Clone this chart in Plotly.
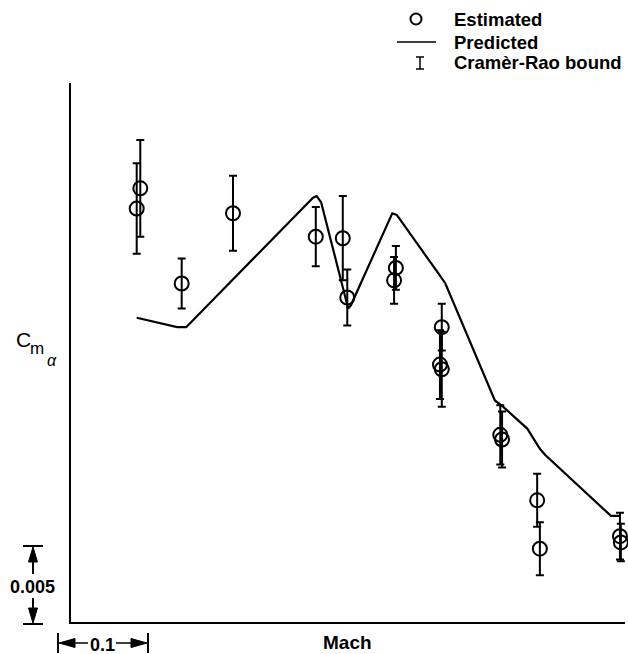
import plotly.graph_objects as go

# ---- data ----
mach_est = [0.627, 0.623, 0.673, 0.730, 0.822, 0.852, 0.857, 0.911, 0.909,
            0.962, 0.960, 0.962, 1.027, 1.029, 1.068, 1.071, 1.160, 1.161]
cma_est = [0.0278, 0.0265, 0.0217, 0.0262, 0.0247, 0.0246, 0.0208, 0.0227, 0.0219,
           0.0189, 0.0165, 0.0162, 0.0120, 0.0117, 0.0078, 0.0047, 0.0055, 0.0051]
cr_bound = [0.0031, 0.0029, 0.0016, 0.0024, 0.0019, 0.0027, 0.0018, 0.0014, 0.0015,
            0.0015, 0.0022, 0.0024, 0.0019, 0.0018, 0.0017, 0.0017, 0.0015, 0.0012]

mach_pred = [0.623, 0.668, 0.678, 0.819, 0.823, 0.828, 0.858, 0.861, 0.907, 0.912,
             0.960, 0.966, 1.021, 1.030, 1.057, 1.071, 1.077, 1.150, 1.160]
cma_pred = [0.0195, 0.0189, 0.0189, 0.0272, 0.0273, 0.0269, 0.0201, 0.0203, 0.0262, 0.0261,
            0.0222, 0.0217, 0.0142, 0.0138, 0.0124, 0.0111, 0.0107, 0.0068, 0.0068]

legend_labels = ["Estimated", "Predicted", "Cramèr-Rao bound"]
x_title = "Mach"
scale_y_label = "0.005"
scale_x_label = "0.1"

W, H = 628, 654


def px(x):
    return x / W


def py(y):
    return 1 - y / H


FONT = "Liberation Sans"

fig = go.Figure()
fig.add_trace(go.Scatter(
    x=mach_pred, y=cma_pred, mode="lines",
    line=dict(color="black", width=2.2), showlegend=False, cliponaxis=False))
fig.add_trace(go.Scatter(
    x=mach_est, y=cma_est, mode="markers",
    marker=dict(symbol="circle-open", size=14, color="black", line=dict(width=2, color="black")),
    error_y=dict(type="data", array=cr_bound, visible=True, thickness=2, width=4, color="black"),
    showlegend=False, cliponaxis=False))

shapes = []
anns = []


def line(x0, y0, x1, y1, w=2):
    shapes.append(dict(type="line", xref="paper", yref="paper",
                       x0=px(x0), y0=py(y0), x1=px(x1), y1=py(y1),
                       line=dict(color="black", width=w)))


def tri(pts):
    d = "M " + " L ".join(f"{px(a)},{py(b)}" for a, b in pts) + " Z"
    shapes.append(dict(type="path", xref="paper", yref="paper", path=d,
                       fillcolor="black", line=dict(color="black", width=1)))


def text(t, x, y, size=17, bold=True, xanchor="center", italic=False, family=FONT):
    s = t
    if bold:
        s = f"<b>{s}</b>"
    if italic:
        s = f"<i>{s}</i>"
    anns.append(dict(text=s, x=px(x), y=py(y), xref="paper", yref="paper",
                     showarrow=False, xanchor=xanchor, yanchor="middle",
                     font=dict(family=family, size=size, color="black")))


# legend
shapes.append(dict(type="circle", xref="paper", yref="paper",
                   x0=px(410.5), x1=px(421.5), y0=py(13.5), y1=py(24.5),
                   line=dict(color="black", width=2)))
line(397, 42, 436, 42, 1.5)
line(420, 57, 420, 69, 1.5)
line(416, 57, 424, 57, 1.5)
line(416, 69, 424, 69, 1.5)
text(legend_labels[0], 452, 19, size=18.5, xanchor="left")
text(legend_labels[1], 452, 42, size=18.5, xanchor="left")
text(legend_labels[2], 452, 63, size=18.5, xanchor="left")

# axis title and y label
text(x_title, 347, 642, size=19)
text("C", 23, 340, size=21, bold=False)
text("m", 37, 348, size=17, bold=False)
text("α", 52, 360, size=16, bold=False, italic=True)

# vertical scale bar (0.005)
line(23, 546, 43, 546)
line(23, 624, 43, 624)
tri([(33, 547), (28.5, 562), (37.5, 562)])
line(33, 560, 33, 574)
tri([(33, 623), (28.5, 608), (37.5, 608)])
line(33, 598, 33, 610)
text(scale_y_label, 32, 587, size=18)

# horizontal scale bar (0.1)
line(58, 633, 58, 653)
line(148, 633, 148, 653)
tri([(59, 643), (75, 638.5), (75, 647.5)])
line(73, 643, 88, 643, 1.5)
tri([(147, 643), (131, 638.5), (131, 647.5)])
line(116, 643, 133, 643, 1.5)
text(scale_x_label, 102, 645, size=18)

fig.update_layout(
    width=W, height=H,
    margin=dict(l=0, r=0, t=0, b=0),
    paper_bgcolor="white", plot_bgcolor="white",
    shapes=shapes, annotations=anns,
    xaxis=dict(domain=[px(71), px(625)], range=[0.55, 1.1656],
               showgrid=False, zeroline=False, showticklabels=False, ticks="",
               showline=True, linewidth=2, linecolor="black"),
    yaxis=dict(domain=[py(622), py(83)], range=[0, 0.034551],
               showgrid=False, zeroline=False, showticklabels=False, ticks="",
               showline=True, linewidth=2, linecolor="black"),
    showlegend=False,
)

fig.write_html("out.html", config={"displayModeBar": False},
               post_script="document.body.style.margin='0';document.body.style.overflow='hidden';")
